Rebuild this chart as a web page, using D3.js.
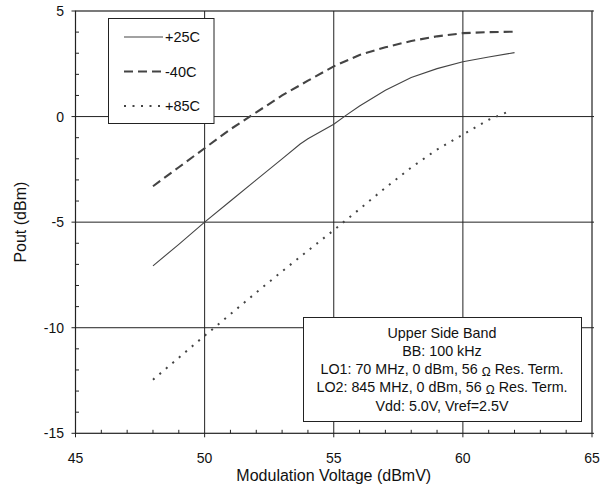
<!DOCTYPE html>
<html>
<head>
<meta charset="utf-8">
<script src="https://cdn.jsdelivr.net/npm/d3@7/dist/d3.min.js"></script>
<style>
  html, body { margin: 0; padding: 0; background: #fff; }
  svg { display: block; font-family: "Liberation Sans", Arial, Helvetica, sans-serif; }
</style>
</head>
<body>
<svg id="chart" width="610" height="492"></svg>
<script>
// Output power vs. modulation voltage at three temperatures
const vmod25 = [48, 49, 50, 51, 52, 53, 53.7, 54, 55, 55.5, 56, 57, 58, 59, 60, 61, 62];
const pout25 = [-7.07, -6.05, -5.0, -4.0, -3.0, -2.0, -1.3, -1.05, -0.36, 0.08, 0.5, 1.25, 1.85, 2.27, 2.6, 2.82, 3.03];

const vmodM40 = [48, 49, 50, 51, 52, 53, 54, 55, 56, 57, 58, 59, 60, 61, 62];
const poutM40 = [-3.3, -2.4, -1.5, -0.6, 0.2, 1.0, 1.7, 2.38, 2.92, 3.28, 3.58, 3.8, 3.95, 4.0, 4.02];

const vmod85 = [48, 49, 50, 51, 52, 53, 54, 55, 56, 57, 58, 59, 60, 61, 61.9];
const pout85 = [-12.46, -11.42, -10.38, -9.36, -8.33, -7.33, -6.35, -5.38, -4.38, -3.37, -2.41, -1.56, -0.85, -0.15, 0.3];

const seriesNames = ["+25C", "-40C", "+85C"];
const xTicks = [45, 50, 55, 60, 65];
const yTicks = [-15, -10, -5, 0, 5];
const noteLines = [
  "Upper Side Band",
  "BB: 100 kHz",
  "LO1: 70 MHz, 0 dBm, 56 \u03A9 Res. Term.",
  "LO2: 845 MHz, 0 dBm, 56 \u03A9 Res. Term.",
  "Vdd: 5.0V, Vref=2.5V"
];

const svg = d3.select("#chart");
const ink = "#222";
const curveInk = "#444";

const x = d3.scaleLinear().domain([45, 65]).range([75.5, 592]);
const y = d3.scaleLinear().domain([-15, 5]).range([433.3, 11]);

// Grid lines at the major ticks
const grid = svg.append("g");
grid.selectAll("line.gx").data(xTicks.slice(1, -1)).join("line")
  .attr("x1", d => x(d)).attr("x2", d => x(d))
  .attr("y1", y(5)).attr("y2", y(-15))
  .attr("stroke", ink).attr("stroke-width", 1);
grid.selectAll("line.gy").data(yTicks.slice(1, -1)).join("line")
  .attr("x1", x(45)).attr("x2", x(65))
  .attr("y1", d => y(d)).attr("y2", d => y(d))
  .attr("stroke", ink).attr("stroke-width", 1);

// Frame
svg.append("rect")
  .attr("x", x(45)).attr("y", y(5))
  .attr("width", x(65) - x(45)).attr("height", y(-15) - y(5))
  .attr("fill", "none").attr("stroke", ink).attr("stroke-width", 1.2);

// Minor ticks (inside) every 1 unit
const xMinor = d3.range(46, 65).filter(v => v % 5 !== 0);
const yMinor = d3.range(-14, 5).filter(v => v % 5 !== 0);
svg.append("g").selectAll("line").data(xMinor).join("line")
  .attr("x1", d => x(d)).attr("x2", d => x(d))
  .attr("y1", y(-15)).attr("y2", y(-15) - 3.5)
  .attr("stroke", ink);
svg.append("g").selectAll("line").data(yMinor).join("line")
  .attr("x1", x(45)).attr("x2", x(45) + 3.5)
  .attr("y1", d => y(d)).attr("y2", d => y(d))
  .attr("stroke", ink);

// Major ticks (outside)
svg.append("g").selectAll("line").data(xTicks).join("line")
  .attr("x1", d => x(d)).attr("x2", d => x(d))
  .attr("y1", y(-15)).attr("y2", y(-15) + 4)
  .attr("stroke", ink);
svg.append("g").selectAll("line").data(yTicks).join("line")
  .attr("x1", x(45) - 4).attr("x2", x(45))
  .attr("y1", d => y(d)).attr("y2", d => y(d))
  .attr("stroke", ink);
svg.append("g").selectAll("line").data(yTicks).join("line")
  .attr("x1", x(65)).attr("x2", x(65) + 2)
  .attr("y1", d => y(d)).attr("y2", d => y(d))
  .attr("stroke", ink);

// Tick labels
svg.append("g").selectAll("text").data(xTicks).join("text")
  .attr("x", d => x(d)).attr("y", 463)
  .attr("text-anchor", "middle").attr("font-size", 14).attr("fill", "#111")
  .text(d => d);
svg.append("g").selectAll("text").data(yTicks).join("text")
  .attr("x", 64).attr("y", d => y(d)).attr("dy", "0.36em")
  .attr("text-anchor", "end").attr("font-size", 14).attr("fill", "#111")
  .text(d => d);

// Axis titles
svg.append("text")
  .attr("x", x(55)).attr("y", 481)
  .attr("text-anchor", "middle").attr("font-size", 16).attr("fill", "#111")
  .text("Modulation Voltage (dBmV)");
svg.append("text")
  .attr("transform", `translate(26,${y(-5)}) rotate(-90)`)
  .attr("text-anchor", "middle").attr("font-size", 16).attr("fill", "#111")
  .text("Pout (dBm)");

// Curves
const styles = [
  { w: 1.1, dash: null },
  { w: 2.1, dash: "9,5" },
  { w: 2, dash: "2,6.5" }
];
const series = [
  d3.zip(vmod25, pout25),
  d3.zip(vmodM40, poutM40),
  d3.zip(vmod85, pout85)
];
const line = d3.line().x(d => x(d[0])).y(d => y(d[1]));
svg.append("g").selectAll("path").data(series).join("path")
  .attr("d", line)
  .attr("fill", "none")
  .attr("stroke", curveInk)
  .attr("stroke-width", (d, i) => styles[i].w)
  .attr("stroke-dasharray", (d, i) => styles[i].dash);

// Legend
const legend = svg.append("g");
legend.append("rect")
  .attr("x", 108.5).attr("y", 18.5).attr("width", 105.5).attr("height", 105)
  .attr("fill", "#fff").attr("stroke", ink).attr("stroke-width", 1);
const rows = legend.selectAll("g.row").data(seriesNames).join("g")
  .attr("transform", (d, i) => `translate(0,${37 + i * 34.5})`);
rows.append("line")
  .attr("x1", 124).attr("x2", 163).attr("y1", 0).attr("y2", 0)
  .attr("stroke", curveInk)
  .attr("stroke-width", (d, i) => styles[i].w)
  .attr("stroke-dasharray", (d, i) => styles[i].dash);
rows.append("text")
  .attr("x", 165).attr("y", 0).attr("dy", "0.36em")
  .attr("font-size", 14.5).attr("fill", "#111")
  .text(d => d);

// Test-condition note
const note = svg.append("g");
note.append("rect")
  .attr("x", 303.5).attr("y", 317.5).attr("width", 278).attr("height", 104)
  .attr("fill", "#fff").attr("stroke", ink).attr("stroke-width", 1);
const noteText = note.selectAll("text").data(noteLines).join("text")
  .attr("x", 442).attr("y", (d, i) => 337.5 + i * 18.3)
  .attr("text-anchor", "middle").attr("font-size", 14.3).attr("fill", "#111");
noteText.each(function (d) {
  const t = d3.select(this);
  const parts = d.split("\u03A9");
  t.append("tspan").text(parts[0]);
  if (parts.length > 1) {
    t.append("tspan").attr("font-size", 12).attr("dy", 1.5).text("\u03A9");
    t.append("tspan").attr("dy", -1.5).text(parts[1]);
  }
});
</script>
</body>
</html>
